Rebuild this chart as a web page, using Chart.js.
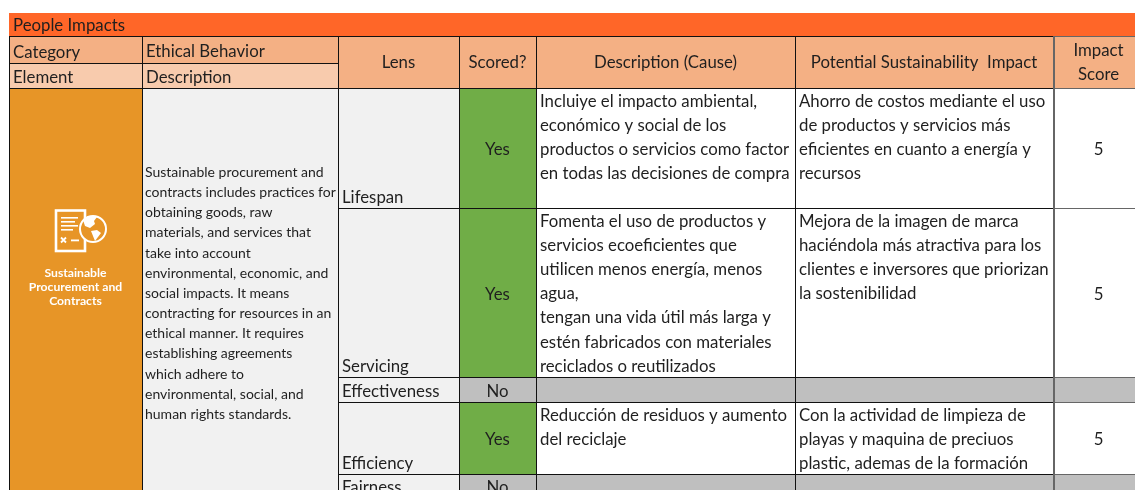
<!DOCTYPE html>
<html>
<head>
<meta charset="utf-8">
<title>People Impacts</title>
<script src="https://cdn.jsdelivr.net/npm/chart.js@4"></script>
<style>
    html, body { margin: 0; padding: 0; background: #fff; overflow: hidden; }
    #wrap { width: 1135px; height: 490px; }
</style>
</head>
<body>
<div id="wrap"><canvas id="tableChart"></canvas></div>
<script>
// table content
const sheetTitle = 'People Impacts';
const headerLeft = [['Category', 'Ethical Behavior'], ['Element', 'Description']];
const headers = [['Lens'], ['Scored?'], ['Description (Cause)'], ['Potential Sustainability  Impact'], ['Impact', 'Score']];
const elementName = ['Sustainable', 'Procurement and', 'Contracts'];
const elementText = [
    'Sustainable procurement and',
    'contracts includes practices for',
    'obtaining goods, raw',
    'materials, and services that',
    'take into account',
    'environmental, economic, and',
    'social impacts. It means',
    'contracting for resources in an',
    'ethical manner. It requires',
    'establishing agreements',
    'which adhere to',
    'environmental, social, and',
    'human rights standards.'
];
const lenses = ['Lifespan', 'Servicing', 'Effectiveness', 'Efficiency', 'Fairness'];
const scored = ['Yes', 'Yes', 'No', 'Yes', 'No'];
const causes = [
    ['Incluiye el impacto ambiental,', 'económico y social de los', 'productos o servicios como factor', 'en todas las decisiones de compra'],
    ['Fomenta el uso de productos y', 'servicios ecoeficientes que', 'utilicen menos energía, menos', 'agua,', 'tengan una vida útil más larga y', 'estén fabricados con materiales', 'reciclados o reutilizados'],
    [],
    ['Reducción de residuos y aumento', 'del reciclaje'],
    []
];
const impacts = [
    ['Ahorro de costos mediante el uso', 'de productos y servicios más', 'eficientes en cuanto a energía y', 'recursos'],
    ['Mejora de la imagen de marca', 'haciéndola más atractiva para los', 'clientes e inversores que priorizan', 'la sostenibilidad'],
    [],
    ['Con la actividad de limpieza de', 'playas y maquina de preciuos', 'plastic, ademas de la formación'],
    []
];
const impactScores = [5, 5, null, 5, null];

// sheet layout, in axis units (the last column and row run past the crop)
const columnEdges = [9, 142, 338, 459, 536, 795, 1053, 1144];
const headerEdges = [36, 63, 88];
const rowEdges = [88, 208, 377, 402, 474, 498];
const bandEdges = [13, 36];

const FONT = 'Lato, Carlito, sans-serif';
const colors = {
    band: '#FF6628', header: '#F4B084', headerLight: '#F8CBAD', element: '#E79527',
    panel: '#F1F1F1', yes: '#70AD47', off: '#BFBFBF', cell: '#FFFFFF', text: '#1f1f1f'
};

function cellBar(col, top, bottom) {
    return { x: (columnEdges[col] + columnEdges[col + 1]) / 2, y: [top, bottom] };
}

function columnDataset(col, cells, borderColor, leftWidth) {
    return {
        data: cells.map(c => cellBar(col, c.top, c.bottom)),
        backgroundColor: cells.map(c => c.color),
        borderColor: borderColor || '#111',
        borderWidth: { top: 1, left: leftWidth || 1, right: 0, bottom: 0 },
        borderSkipped: false,
        inflateAmount: 0,
        grouped: false,
        barThickness: columnEdges[col + 1] - columnEdges[col]
    };
}

function rowCells(colorFor) {
    return lenses.map((_, i) => ({ top: rowEdges[i], bottom: rowEdges[i + 1], color: colorFor(i) }));
}

const headerCell = { top: headerEdges[0], bottom: headerEdges[2], color: colors.header };
const isOff = i => scored[i] === 'No';
const bodyColor = i => isOff(i) ? colors.off : colors.cell;

function leftColumn(bodyFill) {
    return [
        { top: headerEdges[0], bottom: headerEdges[1], color: colors.header },
        { top: headerEdges[1], bottom: headerEdges[2], color: colors.headerLight },
        { top: rowEdges[0], bottom: rowEdges[rowEdges.length - 1], color: bodyFill }
    ];
}

const datasets = [
    {
        data: [{ x: (columnEdges[0] + columnEdges[7]) / 2, y: bandEdges }],
        backgroundColor: colors.band,
        borderWidth: 0,
        inflateAmount: 0,
        grouped: false,
        barThickness: columnEdges[7] - columnEdges[0]
    },
    columnDataset(0, leftColumn(colors.element)),
    columnDataset(1, leftColumn(colors.panel)),
    columnDataset(2, [headerCell].concat(rowCells(() => colors.panel))),
    columnDataset(3, [headerCell].concat(rowCells(i => isOff(i) ? colors.off : colors.yes))),
    columnDataset(4, [headerCell].concat(rowCells(bodyColor))),
    columnDataset(5, [headerCell].concat(rowCells(bodyColor))),
    columnDataset(6, [headerCell].concat(rowCells(bodyColor)), '#666', 2)
];

function blob(ctx, pts) {
    ctx.beginPath();
    pts.forEach((p, i) => i ? ctx.lineTo(p[0], p[1]) : ctx.moveTo(p[0], p[1]));
    ctx.closePath();
    ctx.fill();
}

function drawIcon(ctx, x, y) {
    ctx.save();
    ctx.strokeStyle = '#fff';
    ctx.fillStyle = '#fff';
    ctx.lineWidth = 2.6;
    ctx.strokeRect(x(56), y(210.5), x(85) - x(56), y(251) - y(210.5));
    [[61, 217, 78], [61, 221, 75], [61, 225, 78], [61, 229, 73]].forEach(l => {
        ctx.fillRect(x(l[0]), y(l[1]), x(l[2]) - x(l[0]), 1.6);
    });
    ctx.lineWidth = 1.8;
    ctx.beginPath();
    ctx.moveTo(x(61), y(237.5)); ctx.lineTo(x(66), y(242.5));
    ctx.moveTo(x(66), y(237.5)); ctx.lineTo(x(61), y(242.5));
    ctx.stroke();
    ctx.fillRect(x(71), y(239.5), 8, 1.8);
    ctx.beginPath();
    ctx.arc(x(93), y(229), 13, 0, Math.PI * 2);
    ctx.fillStyle = colors.element;
    ctx.fill();
    ctx.lineWidth = 2;
    ctx.stroke();
    ctx.fillStyle = '#fff';
    blob(ctx, [[x(83), y(220)], [x(88), y(216)], [x(97), y(217)], [x(94), y(221)], [x(95), y(224)], [x(90), y(228)], [x(85), y(226)]]);
    blob(ctx, [[x(91), y(231)], [x(97), y(230)], [x(101), y(233)], [x(98), y(237)], [x(95), y(241)], [x(93), y(236)]]);
    ctx.restore();
}

const sheetText = {
    id: 'sheetText',
    afterDatasetsDraw(chart) {
        const ctx = chart.ctx;
        const x = v => chart.scales.x.getPixelForValue(v);
        const y = v => chart.scales.y.getPixelForValue(v);
        const lineH = 24.1;

        function put(str, px, py, align, font, color) {
            ctx.font = font;
            ctx.textAlign = align || 'left';
            ctx.textBaseline = 'alphabetic';
            ctx.fillStyle = color || colors.text;
            ctx.fillText(str, x(px), y(py));
        }
        const base = '16.8px ' + FONT;
        const mid = col => (columnEdges[col] + columnEdges[col + 1]) / 2;

        put(sheetTitle, columnEdges[0] + 4, bandEdges[0] + 18, 'left', base);

        headerLeft.forEach((row, r) => {
            row.forEach((label, c) => {
                put(label, columnEdges[c] + 4, headerEdges[r + 1] - (c === 1 && r === 0 ? 6 : 5), 'left', base);
            });
        });

        headers.forEach((lines, i) => {
            const center = (headerEdges[0] + headerEdges[2]) / 2;
            const first = center - (lines.length - 1) * lineH / 2 + 6;
            lines.forEach((label, l) => put(label, mid(i + 2), first + l * lineH, 'center', base));
        });

        // element cell
        drawIcon(ctx, x, y);
        elementName.forEach((label, l) => {
            put(label, mid(0), 277 + l * 14, 'center', 'bold 12.2px ' + FONT, '#fff');
        });
        elementText.forEach((label, l) => {
            put(label, columnEdges[1] + 3, 177 + l * 20.15, 'left', '14px ' + FONT);
        });

        // scored rows
        lenses.forEach((label, i) => {
            const top = rowEdges[i];
            const bottom = rowEdges[i + 1];
            const center = (top + bottom) / 2 + 7;
            put(label, columnEdges[2] + 4, bottom - 5, 'left', base);
            put(scored[i], mid(3), center, 'center', base);
            causes[i].forEach((t, l) => put(t, columnEdges[4] + 4, top + 19 + l * lineH, 'left', base));
            impacts[i].forEach((t, l) => put(t, columnEdges[5] + 4, top + 19 + l * lineH, 'left', base));
            if (impactScores[i] !== null) {
                put(String(impactScores[i]), mid(6), center, 'center', base);
            }
        });
    }
};

new Chart(document.getElementById('tableChart').getContext('2d'), {
    type: 'bar',
    data: { datasets: datasets },
    options: {
        responsive: true,
        maintainAspectRatio: false,
        animation: false,
        layout: { padding: 0 },
        plugins: { legend: { display: false }, tooltip: { enabled: false }, title: { display: false } },
        scales: {
            x: { type: 'linear', min: 0, max: 1135, offset: false, display: false },
            y: { type: 'linear', min: 0, max: 490, reverse: true, display: false }
        }
    },
    plugins: [sheetText]
});
</script>
</body>
</html>
